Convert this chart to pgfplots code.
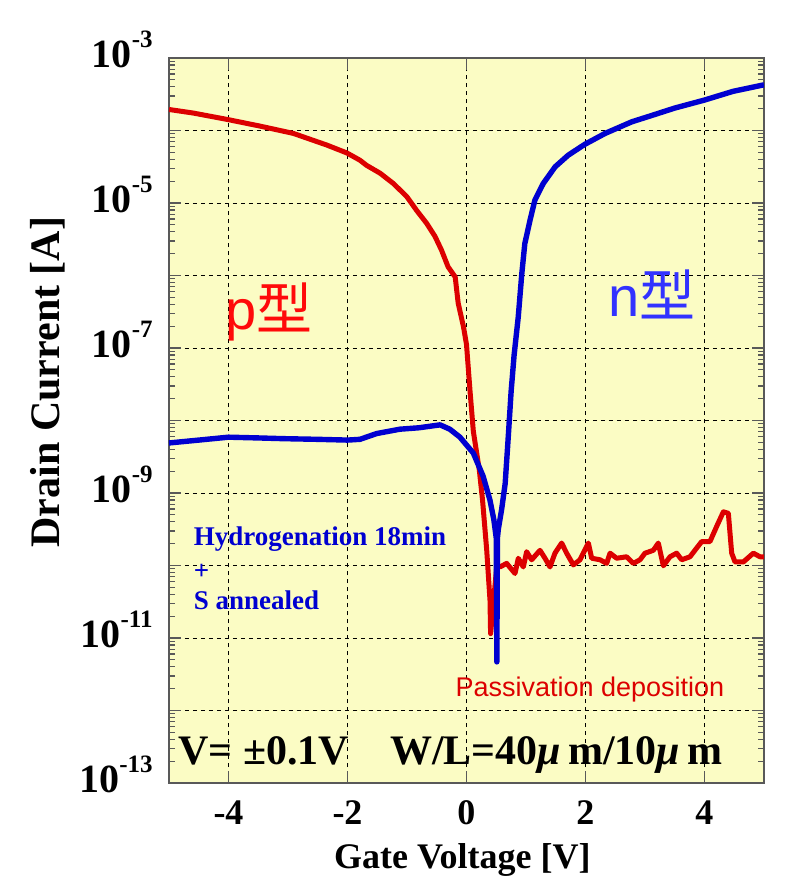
\documentclass[border=0pt]{standalone}
\usepackage{pgfplots}
\pgfplotsset{compat=1.18}
\usepackage{fontspec}
\setmainfont{Liberation Serif}
\newfontfamily\sansf{Liberation Sans}
\newfontfamily\cjk{Noto Sans CJK JP}
\definecolor{bgyellow}{RGB}{251,252,196}
\definecolor{cred}{RGB}{220,0,0}
\definecolor{cblue}{RGB}{0,0,208}
\definecolor{tred}{RGB}{255,10,10}
\definecolor{tblue}{RGB}{50,50,255}
\newcommand{\tp}[1]{10\raisebox{10pt}{\fontsize{12.5}{12.5}\selectfont #1}}
\begin{document}
\begin{tikzpicture}
\path[use as bounding box] (-84.5pt,-48.5pt) rectangle (310.5pt,391.5pt);
\begin{axis}[
  at={(0,0)}, anchor=south west,
  scale only axis, width=297.5pt, height=362.5pt,
  xmin=-5, xmax=5, ymode=log, ymin=1e-13, ymax=1e-3,
  axis background/.style={fill=bgyellow},
  xtick={-4,-2,0,2,4}, xticklabels={-4,-2,0,2,4},
  ytick={1e-13,1e-12,1e-11,1e-10,1e-9,1e-8,1e-7,1e-6,1e-5,1e-4,1e-3},
  yticklabels={\tp{-13},,\tp{-11},,\tp{-9},,\tp{-7},,\tp{-5},,\tp{-3}},
  grid=major,
  major grid style={black, line width=0.5pt, dash pattern=on 2pt off 2pt},
  tick align=inside, major tick length=6pt,
  tick style={gray!70!black, line width=0.6pt},
  axis line style={gray!70!black, line width=0.8pt},
  xticklabel style={font=\fontsize{18}{20}\selectfont\bfseries, anchor=north, inner sep=0pt, yshift=-8.5pt},
  yticklabel style={font=\fontsize{20}{22}\selectfont\bfseries, anchor=base east, inner sep=0pt, xshift=-8pt, yshift=-4.5pt},
  xlabel={Gate Voltage [V]},
  ylabel={Drain Current [A]},
  xlabel style={font=\fontsize{18}{20}\selectfont\bfseries, at={(axis description cs:0.493,0)}, anchor=base, yshift=-42.5pt},
  ylabel style={font=\fontsize{21}{23}\selectfont\bfseries, at={(axis description cs:-0.203,0.553)}, anchor=center},
  clip=true,
]
% red p-type curve
\addplot[cred, line width=2.5pt, line join=round] coordinates {
(-5,1.95e-4) (-4.59,1.74e-4) (-4.0,1.41e-4) (-3.47,1.15e-4) (-2.91,9.12e-5) (-2.35,6.31e-5)
(-2.01,4.90e-5) (-1.79,3.89e-5) (-1.68,3.31e-5) (-1.45,2.57e-5) (-1.23,1.86e-5)
(-1.005,1.23e-5) (-0.84,7.94e-6) (-0.67,5.25e-6) (-0.53,3.47e-6) (-0.42,2.24e-6)
(-0.31,1.32e-6) (-0.19,9.55e-7) (-0.14,4.17e-7) (-0.05,1.95e-7) (0.0,1.12e-7)
(0.06,2.51e-8) (0.115,7.08e-9) (0.215,2.09e-9) (0.27,7.94e-10) (0.34,1.62e-10)
(0.395,3.31e-11) (0.405,1.15e-11) (0.51,1.0e-10)
(0.563,9.55e-11) (0.675,1.07e-10) (0.815,7.76e-11) (0.871,1.26e-10) (0.955,9.55e-11)
(1.011,1.55e-10) (1.095,1.20e-10) (1.235,1.62e-10) (1.319,1.26e-10) (1.403,9.55e-11)
(1.487,1.48e-10) (1.599,2.04e-10) (1.683,1.48e-10) (1.796,1.02e-10) (1.908,1.20e-10)
(2.048,2.04e-10) (2.104,1.26e-10) (2.244,1.20e-10) (2.356,1.07e-10) (2.412,1.48e-10)
(2.524,1.26e-10) (2.692,1.32e-10) (2.804,1.07e-10) (2.916,1.20e-10) (3.000,1.48e-10)
(3.140,1.62e-10) (3.224,2.04e-10) (3.308,9.9e-11) (3.420,1.32e-10) (3.532,1.48e-10)
(3.616,1.20e-10) (3.756,1.32e-10) (3.868,1.74e-10) (3.953,2.14e-10) (4.092,2.14e-10)
(4.205,3.47e-10) (4.317,5.50e-10) (4.401,5.25e-10) (4.457,1.48e-10) (4.513,1.12e-10)
(4.653,1.12e-10) (4.821,1.48e-10) (4.933,1.32e-10) (5.0,1.32e-10)
};
% blue n-type curve
\addplot[cblue, line width=2.7pt, line join=round] coordinates {
(-5,4.90e-9) (-4.5,5.37e-9) (-4,5.89e-9) (-3.5,5.75e-9) (-3.08,5.62e-9) (-2.5,5.50e-9)
(-2.0,5.37e-9) (-1.79,5.50e-9) (-1.51,6.61e-9) (-1.12,7.59e-9) (-0.8,7.94e-9)
(-0.445,8.71e-9) (-0.28,7.59e-9) (-0.11,5.89e-9) (0.115,3.55e-9) (0.28,1.70e-9)
(0.395,7.94e-10) (0.46,4.27e-10) (0.50,2.40e-10) (0.51,4.68e-12) (0.52,2.40e-10)
(0.535,3.16e-10) (0.59,5.89e-10) (0.65,1.35e-9) (0.70,5.62e-9) (0.75,2.51e-8)
(0.80,7.94e-8) (0.87,2.69e-7) (0.93,1.07e-6) (0.98,2.75e-6) (1.07,5.89e-6)
(1.15,1.10e-5) (1.29,1.86e-5) (1.49,3.16e-5) (1.71,4.57e-5) (1.99,6.46e-5)
(2.33,9.12e-5) (2.78,1.32e-4) (3.08,1.58e-4) (3.5,2.04e-4) (4.0,2.63e-4)
(4.48,3.47e-4) (5.0,4.27e-4)
};
% annotations
\node[anchor=base west, inner sep=0pt, text=tred, font=\fontsize{28}{30}\selectfont] at (axis cs:-4.06,1.78e-7) {\sansf p\cjk 型};
\node[anchor=base west, inner sep=0pt, text=tblue, font=\fontsize{28}{30}\selectfont] at (axis cs:2.38,2.75e-7) {\sansf n\cjk 型};
\node[anchor=base west, inner sep=0pt, text=cblue, font=\fontsize{13.5}{15}\selectfont\bfseries] at (axis cs:-4.59,1.91e-10) {Hydrogenation 18min};
\node[anchor=base west, inner sep=0pt, text=cblue, font=\fontsize{13.5}{15}\selectfont\bfseries] at (axis cs:-4.59,6.46e-11) {+};
\node[anchor=base west, inner sep=0pt, text=cblue, font=\fontsize{13.5}{15}\selectfont\bfseries] at (axis cs:-4.59,2.45e-11) {S annealed};
\node[anchor=base west, inner sep=0pt, text=cred, font=\fontsize{13.5}{15}\selectfont\sansf] at (axis cs:-0.19,1.58e-12) {Passivation deposition};
\node[anchor=base west, inner sep=0pt, font=\fontsize{21}{23}\selectfont\bfseries] at (axis cs:-4.85,1.78e-13) {V= ±0.1V};
\node[anchor=base west, inner sep=0pt, font=\fontsize{21}{23}\selectfont\bfseries] at (axis cs:-1.29,1.78e-13) {W/L=40{\itshape μ}\,m/10{\itshape μ}\,m};
\end{axis}
\end{tikzpicture}
\end{document}
